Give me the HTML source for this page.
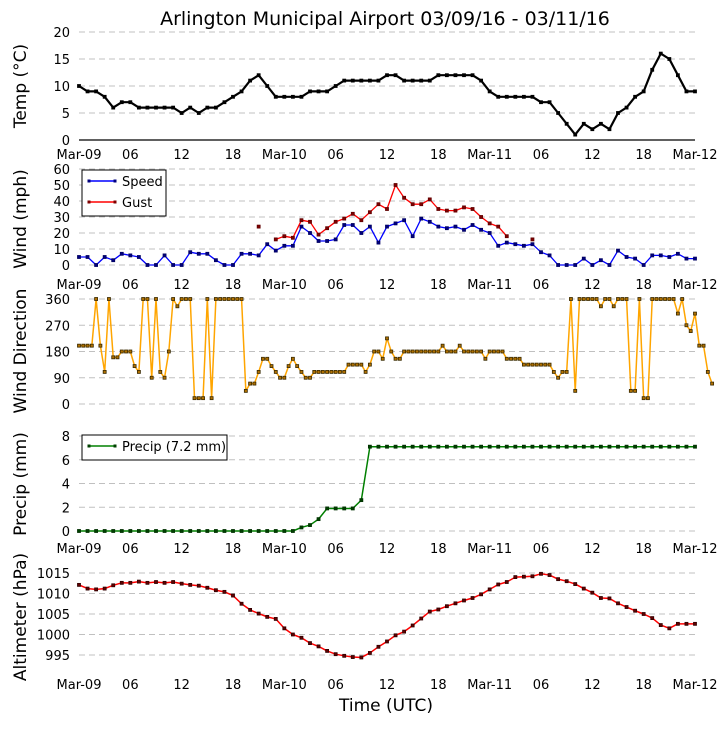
<!DOCTYPE html>
<html><head><meta charset="utf-8"><style>
html,body{margin:0;padding:0;background:#fff;}
svg text{font-family:"DejaVu Sans","Liberation Sans",sans-serif;}
</style></head><body>
<svg id="chart" width="726" height="725" viewBox="0 0 726 725" xmlns="http://www.w3.org/2000/svg">
<rect width="726" height="725" fill="#fff"/>
<text x="385" y="25" font-size="19" text-anchor="middle">Arlington Municipal Airport 03/09/16 - 03/11/16</text>
<text x="386" y="711" font-size="17" text-anchor="middle">Time (UTC)</text>
</svg>
<script>
const xTickLabels = ["Mar-09","06","12","18","Mar-10","06","12","18","Mar-11","06","12","18","Mar-12"];
const tempVals = [10,9,9,8,6,7,7,6,6,6,6,6,5,6,5,6,6,7,8,9,11,12,10,8,8,8,8,9,9,9,10,11,11,11,11,11,12,12,11,11,11,11,12,12,12,12,12,11,9,8,8,8,8,8,7,7,5,3,1,3,2,3,2,5,6,8,9,13,16,15,12,9,9];
const speedVals = [5,5,0,5,3,7,6,5,0,0,6,0,0,8,7,7,3,0,0,7,7,6,13,9,12,12,24,20,15,15,16,25,25,20,24,14,24,26,28,18,29,27,24,23,24,22,25,22,20,12,14,13,12,13,8,6,0,0,0,4,0,3,0,9,5,4,0,6,6,5,7,4,4];
const gustVals = [null,null,null,null,null,null,null,null,null,null,null,null,null,null,null,null,null,null,null,null,null,24,null,16,18,17,28,27,19,23,27,29,32,28,33,38,35,50,42,38,38,41,35,34,34,36,35,30,26,24,18,null,null,16,null,null,null,null,null,null,null,null,null,null,null,null,null,null,null,null,null,null,null];
const dirVals = [200,200,200,200,360,200,110,360,160,160,180,180,180,130,110,360,360,90,360,110,90,180,360,335,360,360,360,20,20,20,360,20,360,360,360,360,360,360,360,45,70,70,110,155,155,130,110,90,90,130,155,130,110,90,90,110,110,110,110,110,110,110,110,135,135,135,135,110,135,180,180,155,225,180,155,155,180,180,180,180,180,180,180,180,180,200,180,180,180,200,180,180,180,180,180,155,180,180,180,180,155,155,155,155,135,135,135,135,135,135,135,110,90,110,110,360,45,360,360,360,360,360,335,360,360,335,360,360,360,45,45,360,20,20,360,360,360,360,360,360,310,360,270,250,310,200,200,110,70];
const precipVals = [0,0,0,0,0,0,0,0,0,0,0,0,0,0,0,0,0,0,0,0,0,0,0,0,0,0,0.3,0.5,1.0,1.9,1.9,1.9,1.9,2.6,7.1,7.1,7.1,7.1,7.1,7.1,7.1,7.1,7.1,7.1,7.1,7.1,7.1,7.1,7.1,7.1,7.1,7.1,7.1,7.1,7.1,7.1,7.1,7.1,7.1,7.1,7.1,7.1,7.1,7.1,7.1,7.1,7.1,7.1,7.1,7.1,7.1,7.1,7.1];
const altVals = [1012.1,1011.2,1011,1011.2,1012,1012.6,1012.6,1012.9,1012.6,1012.8,1012.6,1012.8,1012.4,1012.1,1011.9,1011.4,1010.8,1010.4,1009.5,1007.5,1006,1005.1,1004.3,1003.8,1001.5,1000,999.2,997.9,997.1,996,995.2,994.8,994.5,994.4,995.5,997,998.3,999.8,1000.7,1002.2,1003.9,1005.6,1006.1,1006.9,1007.6,1008.3,1008.9,1009.8,1011,1012.2,1012.8,1014,1014.1,1014.2,1014.8,1014.5,1013.5,1013,1012.3,1011.2,1010.2,1008.9,1008.8,1007.6,1006.7,1005.8,1005,1004,1002.3,1001.5,1002.6,1002.6,1002.6];
const tempTicks = [0,5,10,15,20];
const windTicks = [0,10,20,30,40,50,60];
const dirTicks = [0,90,180,270,360];
const precipTicks = [0,2,4,6,8];
const altTicks = [995,1000,1005,1010,1015];

const NS = "http://www.w3.org/2000/svg";
const svg = document.getElementById("chart");
function mk(tag, attrs, parent){const e=document.createElementNS(NS,tag);for(const k in attrs)e.setAttribute(k,attrs[k]);(parent||svg).appendChild(e);return e;}
const X0=79, X1=695;
function xScale(h){return X0+(X1-X0)*h/72;}
function yScaleF(min,max,top,bot){return v=>bot-(v-min)/(max-min)*(bot-top);}

function panel(name, ticks, ys, gridMin, labelTxt, labelY, xLabelsY, solidZero){
  const g=mk("g",{});
  
  
  ticks.forEach(t=>{
    const y=ys(t);
    const ln=mk("line",{x1:X0,x2:X1,y1:y,y2:y,stroke:"#c0c0c0","stroke-width":1,"stroke-dasharray":"6,4"},g);
    
    
    const tx=mk("text",{x:70,y:y+5,"font-size":13,"text-anchor":"end"},g);
    tx.textContent=t;
    
    
  });
  if(solidZero){
    const ax=mk("line",{x1:X0,x2:X1,y1:ys(ticks[0]),y2:ys(ticks[0]),stroke:"#000","stroke-width":1.2},g);
    
    
  }
  const yl=mk("text",{x:0,y:0,"font-size":17,"text-anchor":"middle",transform:`translate(26,${labelY}) rotate(-90)`},g);
  yl.textContent=labelTxt;
  
  
  if(xLabelsY){
    xTickLabels.forEach((l,i)=>{
      const t=mk("text",{x:xScale(i*6),y:xLabelsY,"font-size":13,"text-anchor":"middle"},g);
      t.textContent=l;
      
      
    });
  }
  return g;
}
function series(name, vals, step, ys, color, width, mcol, mfill, msize){
  const g=mk("g",{});
  
  
  let d="", pen=false;
  vals.forEach((v,i)=>{
    if(v===null){pen=false;return;}
    d+=(pen?"L":"M")+xScale(i*step).toFixed(2)+","+ys(v).toFixed(2);
    pen=true;
  });
  const p=mk("path",{d:d,fill:"none",stroke:color,"stroke-width":width,"stroke-linejoin":"round"},g);
  
  
  vals.forEach((v,i)=>{
    if(v===null)return;
    const s=msize;
    const r=mk("rect",{x:xScale(i*step)-s/2,y:ys(v)-s/2,width:s,height:s,fill:mfill,stroke:mcol,"stroke-width":0.8},g);
    
    
  });
}
function legend(name, x, y, w, entries){
  const g=mk("g",{});
  
  
  mk("rect",{x:x,y:y,width:w,height:entries.length*21+4,fill:"#fff",stroke:"#000","stroke-width":1},g);
  entries.forEach((e,i)=>{
    const cy=y+11+i*21;
    const ln=mk("line",{x1:x+6,x2:x+34,y1:cy,y2:cy,stroke:e[1],"stroke-width":1.5},g);
    
    
    [x+7,x+33].forEach(mx=>mk("rect",{x:mx-1.5,y:cy-1.5,width:3,height:3,fill:e[2]},g));
    const t=mk("text",{x:x+40,y:cy+5,"font-size":13},g);
    t.textContent=e[0];
    
    
  });
}

// Temp
const yT=yScaleF(0,20,32,140);
panel("temp",tempTicks,yT,0,"Temp (\u00B0C)",86,159,true);
series("temperature",tempVals,1,yT,"#000",2.2,"#000","#000",3);
// Wind
const yW=yScaleF(0,60,169,265);
panel("wind",windTicks,yW,0,"Wind (mph)",219,289,false);
series("wind-speed",speedVals,1,yW,"#0000ff",1.3,"#000060","#000080",3);
series("wind-gust",gustVals,1,yW,"#ff0000",1.3,"#600000","#800000",3);
legend("wind-legend",82,170,84,[["Speed","#0000ff","#000080"],["Gust","#ff0000","#800000"]]);
// Dir
const yD=yScaleF(0,360,299,404);
panel("wind-direction",dirTicks,yD,0,"Wind Direction",351,null,false);
series("wind-direction",dirVals,0.5,yD,"#ffa500",1.5,"#3a2a00","#b07000",3);
// Precip
const yP=yScaleF(0,8,436,531);
panel("precip",precipTicks,yP,0,"Precip (mm)",484,553,false);
series("precipitation",precipVals,1,yP,"#008000",1.5,"#003000","#004000",3);
legend("precip-legend",82,435,145,[["Precip (7.2 mm)","#008000","#004000"]]);
// Altimeter
const yA=yScaleF(995,1015,573,655);
panel("altimeter",altTicks,yA,0,"Altimeter (hPa)",617,689,false);
series("altimeter",altVals,1,yA,"#ff0000",1.5,"#300000","#600000",3);
</script>
</body></html>
